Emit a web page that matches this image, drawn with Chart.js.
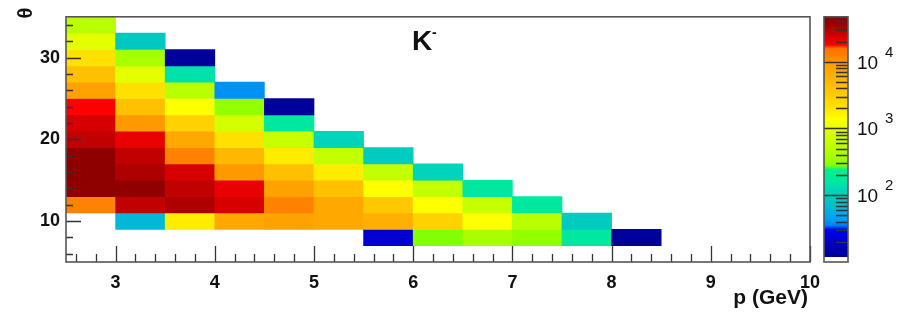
<!DOCTYPE html>
<html>
<head>
<meta charset="utf-8">
<script src="https://cdn.jsdelivr.net/npm/chart.js@4.4.0/dist/chart.umd.min.js"></script>
<style>
  html, body { margin: 0; padding: 0; background: #fff; }
  #wrap { width: 904px; height: 321px; }
</style>
</head>
<body>
<div id="wrap"><canvas id="chartKmenos"></canvas></div>
<script>
// centros dos bins (p em GeV, theta em graus)
const pCentros = [2.75, 3.25, 3.75, 4.25, 4.75, 5.25, 5.75, 6.25, 6.75, 7.25, 7.75, 8.25];
const thetaCentros = [8, 10, 12, 14, 16, 18, 20, 22, 24, 26, 28, 30, 32, 34];
const larguraP = 0.5;
const larguraTheta = 2;

// contagens de cada coluna de p, de theta = 8 ate 34 (null = bin vazio)
const n275 = [null, null, 12000, 41000, 44000, 42000, 28000, 24000, 18000, 9000, 4200, 2100, 1000, 500];
const n325 = [null, 63, 28000, 40000, 32000, 28000, 21000, 10000, 4200, 2100, 1000, 400, 90, null];
const n375 = [null, 1800, 32000, 28000, 24000, 12000, 7000, 2800, 1400, 500, 145, 13, null, null];
const n425 = [null, 7000, 24000, 21000, 10000, 5000, 2100, 830, 320, 40, null, null, null, null];
const n475 = [null, 9000, 12000, 9000, 4200, 1800, 630, 160, 13, null, null, null, null, null];
const n525 = [null, 7000, 7000, 4200, 1800, 600, 115, null, null, null, null, null, null, null];
const n575 = [22, 6000, 3500, 1400, 600, 95, null, null, null, null, null, null, null, null];
const n625 = [280, 2800, 1400, 600, 115, null, null, null, null, null, null, null, null, null];
const n675 = [400, 1400, 630, 160, null, null, null, null, null, null, null, null, null, null];
const n725 = [320, 500, 160, null, null, null, null, null, null, null, null, null, null, null];
const n775 = [160, 95, null, null, null, null, null, null, null, null, null, null, null, null];
const n825 = [13, null, null, null, null, null, null, null, null, null, null, null, null, null];
const colunas = [n275, n325, n375, n425, n475, n525, n575, n625, n675, n725, n775, n825];

// ticks dos eixos
const ticksP = [3, 4, 5, 6, 7, 8, 9, 10];
const ticksTheta = [10, 20, 30];
const ticksZ = [100, 1000, 10000];
const zMin = 10;
const zMax = 47000;

// paleta tipo arco-iris, em funcao de log10(z)
const paleta = [
  [1.00, 0, 0, 128], [1.30, 0, 0, 200], [1.48, 0, 0, 240], [1.55, 0, 128, 248],
  [1.65, 0, 160, 240], [1.80, 0, 184, 216], [1.95, 0, 200, 192], [2.10, 0, 216, 184],
  [2.20, 0, 232, 160], [2.38, 0, 240, 144], [2.45, 136, 255, 0], [2.60, 168, 255, 0],
  [2.75, 192, 255, 0], [2.95, 216, 255, 0], [3.05, 240, 255, 0], [3.15, 255, 255, 0],
  [3.30, 255, 228, 0], [3.50, 255, 204, 0], [3.70, 255, 184, 0], [3.85, 255, 168, 0],
  [3.98, 255, 160, 0], [4.05, 255, 136, 0], [4.20, 255, 112, 0], [4.25, 255, 0, 0],
  [4.35, 224, 0, 0], [4.45, 192, 0, 0], [4.52, 168, 0, 0], [4.60, 144, 0, 0], [4.70, 136, 0, 0]
];

function corPara(v) {
  const l = Math.log10(v);
  if (l <= paleta[0][0]) return 'rgb(0,0,128)';
  for (let i = 1; i < paleta.length; i++) {
    if (l <= paleta[i][0]) {
      const a = paleta[i - 1], b = paleta[i];
      const t = (l - a[0]) / (b[0] - a[0]);
      const r = Math.round(a[1] + t * (b[1] - a[1]));
      const g = Math.round(a[2] + t * (b[2] - a[2]));
      const bl = Math.round(a[3] + t * (b[3] - a[3]));
      return `rgb(${r},${g},${bl})`;
    }
  }
  return 'rgb(136,0,0)';
}

// monta as celulas como barras flutuantes
let celulas = [];
let cores = [];
for (let i = 0; i < colunas.length; i++) {
  for (let j = 0; j < thetaCentros.length; j++) {
    const n = colunas[i][j];
    if (n === null) continue;
    celulas.push({ x: pCentros[i], y: [thetaCentros[j] - larguraTheta / 2, thetaCentros[j] + larguraTheta / 2], n: n });
    cores.push(corPara(n));
  }
}

const familia = 'Liberation Sans, Arial, sans-serif';
const fonteEixo = { family: familia, size: 18, weight: 'bold' };

// moldura, ticks internos, barra de cores e textos
const extras = {
  id: 'extras',
  afterDraw(chart) {
    const ctx = chart.ctx;
    const a = chart.chartArea;
    const xs = chart.scales.x, ys = chart.scales.y, zs = chart.scales.z;
    ctx.save();

    // ticks para dentro
    ctx.strokeStyle = '#333';
    ctx.lineWidth = 1.3;
    ctx.beginPath();
    for (let v = 2.6; v < 10; v += 0.2) {
      const px = Math.round(xs.getPixelForValue(v)) + 0.5;
      const maior = Math.abs(v - Math.round(v)) < 0.01;
      ctx.moveTo(px, a.bottom);
      ctx.lineTo(px, a.bottom - (maior ? 16 : 8));
    }
    for (let v = 6; v < 35; v += 2) {
      const py = Math.round(ys.getPixelForValue(v)) + 0.5;
      const maior = v % 10 === 0;
      ctx.moveTo(a.left, py);
      ctx.lineTo(a.left + (maior ? 15 : 7), py);
    }
    ctx.stroke();

    // moldura
    ctx.strokeStyle = '#555';
    ctx.lineWidth = 1.6;
    ctx.strokeRect(a.left, a.top, a.right - a.left, a.bottom - a.top);

    // barra de cores
    const bx = 824, bw = 24;
    for (let py = Math.floor(a.top); py < a.bottom; py++) {
      const v = zs.getValueForPixel(py + 0.5);
      ctx.fillStyle = Math.log10(v) < 1.07 ? '#fff' : corPara(v);
      ctx.fillRect(bx, py, bw, 1);
    }
    ctx.strokeStyle = '#333';
    ctx.lineWidth = 1.3;
    ctx.beginPath();
    for (let dec = 10; dec < zMax; dec *= 10) {
      for (let k = 2; k <= 9; k++) {
        const v = k * dec;
        if (v > zMax) break;
        const py = Math.round(zs.getPixelForValue(v)) + 0.5;
        ctx.moveTo(bx + bw, py);
        ctx.lineTo(bx + bw - 12, py);
      }
    }
    ticksZ.forEach(v => {
      const py = Math.round(zs.getPixelForValue(v)) + 0.5;
      ctx.moveTo(bx, py);
      ctx.lineTo(bx + bw, py);
    });
    ctx.stroke();
    ctx.strokeStyle = '#555';
    ctx.lineWidth = 1.6;
    ctx.strokeRect(bx, a.top, bw, a.bottom - a.top);

    // rotulos da barra de cores
    ctx.fillStyle = '#111';
    ctx.textAlign = 'left';
    ctx.textBaseline = 'alphabetic';
    ticksZ.forEach(v => {
      const py = zs.getPixelForValue(v);
      ctx.font = '19px ' + familia;
      ctx.fillText('10', 857, py + 7);
      ctx.font = '15px ' + familia;
      ctx.fillText(String(Math.round(Math.log10(v))), 885, py - 5);
    });

    // titulo
    ctx.font = 'bold 28px ' + familia;
    ctx.fillText('K', 412, 50);
    ctx.font = 'bold 14px ' + familia;
    ctx.fillText('-', 432, 37);

    // titulos dos eixos
    ctx.font = 'bold 21px ' + familia;
    ctx.textAlign = 'right';
    ctx.fillText('p (GeV)', 808, 304);
    ctx.save();
    ctx.translate(32, 13);
    ctx.rotate(-Math.PI / 2);
    ctx.textAlign = 'center';
    ctx.font = 'bold 20px ' + familia;
    ctx.fillText('θ', 0, 0);
    ctx.restore();

    ctx.restore();
  }
};

const ctx = document.getElementById('chartKmenos').getContext('2d');
const grafico = new Chart(ctx, {
  type: 'bar',
  data: {
    datasets: [{
      label: 'K-',
      data: celulas,
      backgroundColor: cores,
      borderWidth: 0,
      barPercentage: 1,
      categoryPercentage: 1
    }]
  },
  options: {
    responsive: true,
    maintainAspectRatio: false,
    animation: false,
    layout: { padding: { left: 0, right: 94, top: 7, bottom: 0 } },
    plugins: { legend: { display: false }, tooltip: { enabled: false } },
    scales: {
      x: {
        type: 'linear',
        min: 2.5,
        max: 10,
        offset: false,
        grid: { display: false, drawTicks: false },
        border: { display: false },
        ticks: { font: fonteEixo, color: '#111', padding: 10, maxRotation: 0 },
        afterBuildTicks: s => { s.ticks = ticksP.map(v => ({ value: v })); },
        afterFit: s => { s.height = 59; }
      },
      y: {
        type: 'linear',
        min: 5,
        max: 35,
        grid: { display: false, drawTicks: false },
        border: { display: false },
        ticks: { font: fonteEixo, color: '#111', padding: 6 },
        afterBuildTicks: s => { s.ticks = ticksTheta.map(v => ({ value: v })); },
        afterFit: s => { s.width = 66; }
      },
      z: {
        type: 'logarithmic',
        position: 'right',
        display: false,
        min: zMin,
        max: zMax
      }
    }
  },
  plugins: [extras]
});
</script>
</body>
</html>
